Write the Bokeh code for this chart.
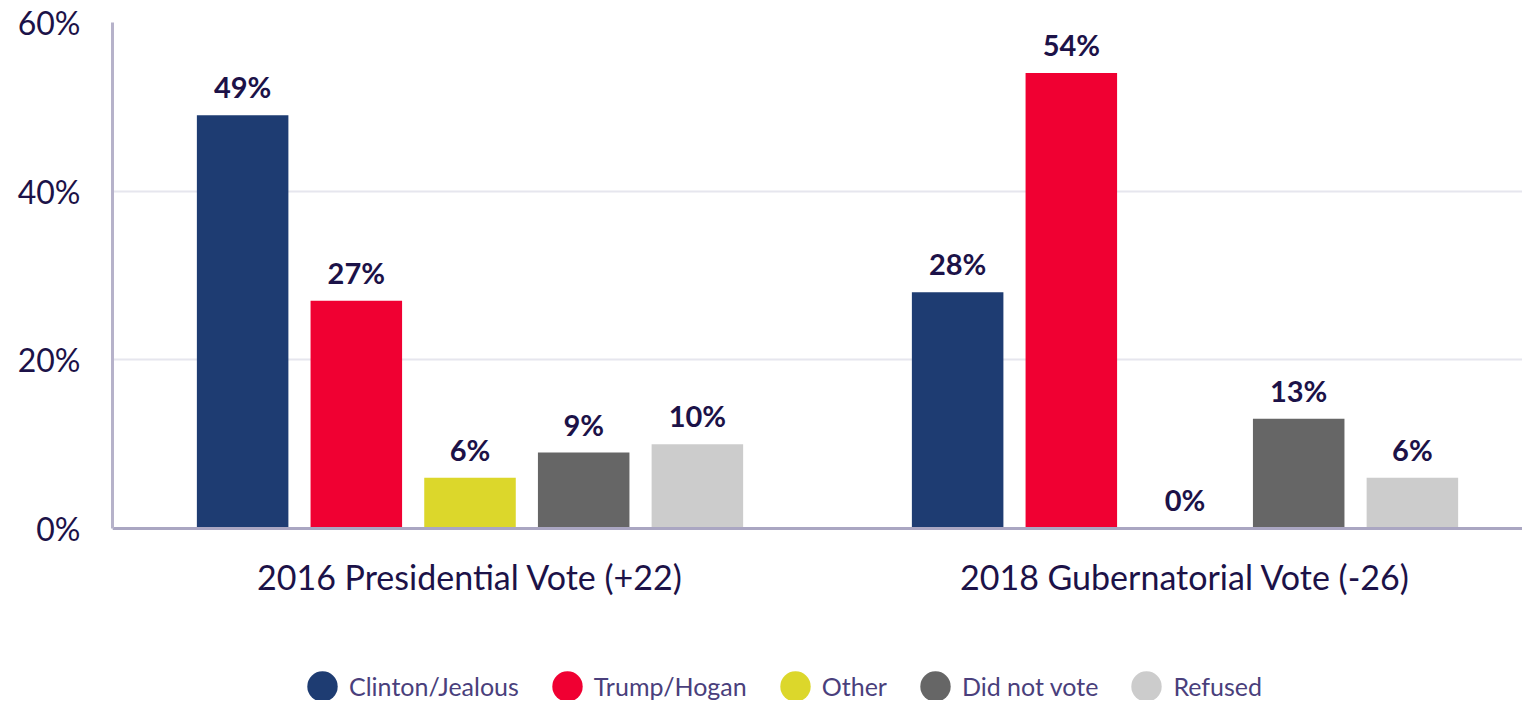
from bokeh.plotting import figure
from bokeh.models import (ColumnDataSource, Range1d, FixedTicker, Legend, LegendItem,
                          LabelSet)
from bokeh.core.properties import value
from bokeh.transform import dodge
from bokeh.embed import file_html
from bokeh.resources import INLINE

groups = ["2016 Presidential Vote (+22)", "2018 Gubernatorial Vote (-26)"]
series = ["Clinton/Jealous", "Trump/Hogan", "Other", "Did not vote", "Refused"]
colors = ["#1e3c72", "#f00032", "#dcd72b", "#666666", "#cccccc"]
values = {
    "Clinton/Jealous": [49, 28],
    "Trump/Hogan": [27, 54],
    "Other": [6, 0],
    "Did not vote": [9, 13],
    "Refused": [10, 6],
}
y_ticks = [0, 20, 40, 60]

group_pos = [i + 0.5 for i in range(len(groups))]
offsets = [-0.318, -0.159, 0.0, 0.159, 0.318]

FONT = "Lato"
TEXT = "#1c1248"

# the frame runs down to the bottom of the canvas so the legend can sit inside it;
# the x axis is pinned at y = 0
p = figure(width=1522, height=700, output_backend="svg", toolbar_location=None,
           x_range=Range1d(0, 1.972), y_range=Range1d(-20.4, 60),
           min_border_left=112, min_border_top=22, min_border_right=0,
           min_border_bottom=0, outline_line_color=None)

legend_items = []
for s, c, off in zip(series, colors, offsets):
    src = ColumnDataSource(dict(x=group_pos, y=values[s],
                                lab=[f"{v}%" for v in values[s]]))
    xs = dodge("x", off, range=p.x_range)
    p.vbar(x=xs, top="y", bottom=0, width=0.128, source=src, fill_color=c, line_color=None)
    # legend proxy: tiny round ellipses so the legend shows filled circles
    proxy = p.ellipse(x=xs, y="y", width=0.01, height=0.01, width_units="screen",
                      height_units="screen", source=src, fill_color=c, line_color=None)
    legend_items.append(LegendItem(label=s, renderers=[proxy]))
    labels = LabelSet(x=xs, y="y", text="lab", source=src,
                      text_align="center", text_baseline="bottom", y_offset=11,
                      text_font=value(FONT), text_font_style="bold",
                      text_font_size="29px", text_color=TEXT)
    p.add_layout(labels)

# axes
p.yaxis.ticker = FixedTicker(ticks=y_ticks)
p.yaxis.bounds = (0, 60)
p.yaxis.major_label_overrides = {t: f"{t}%" for t in y_ticks}
p.yaxis.major_label_text_font = FONT
p.yaxis.major_label_text_font_size = "32px"
p.yaxis.major_label_text_color = TEXT
p.yaxis.major_tick_line_color = None
p.yaxis.minor_tick_line_color = None
p.yaxis.major_label_standoff = 26
p.yaxis.axis_line_color = "#b6b2ca"
p.yaxis.axis_line_width = 3

p.xaxis.fixed_location = 0
p.xaxis.ticker = FixedTicker(ticks=group_pos)
p.xaxis.major_label_overrides = {g: n for g, n in zip(group_pos, groups)}
p.xaxis.major_label_text_font = FONT
p.xaxis.major_label_text_font_size = "34px"
p.xaxis.major_label_text_color = TEXT
p.xaxis.major_tick_line_color = None
p.xaxis.minor_tick_line_color = None
p.xaxis.major_label_standoff = 22
p.xaxis.axis_line_color = "#aaa6c2"
p.xaxis.axis_line_width = 3

p.xgrid.grid_line_color = None
p.ygrid.ticker = FixedTicker(ticks=y_ticks)
p.ygrid.grid_line_color = "#e6e6ee"
p.ygrid.grid_line_width = 2

legend = Legend(items=legend_items,
                orientation="horizontal", location=(191, -5),
                border_line_color=None, background_fill_alpha=0,
                glyph_width=38, glyph_height=38, label_standoff=8, spacing=29,
                padding=0, margin=0,
                label_text_font=FONT, label_text_font_size="25px",
                label_text_color="#4a3f7c")
p.add_layout(legend, "center")

open("out.html", "w").write(file_html(p, INLINE))
